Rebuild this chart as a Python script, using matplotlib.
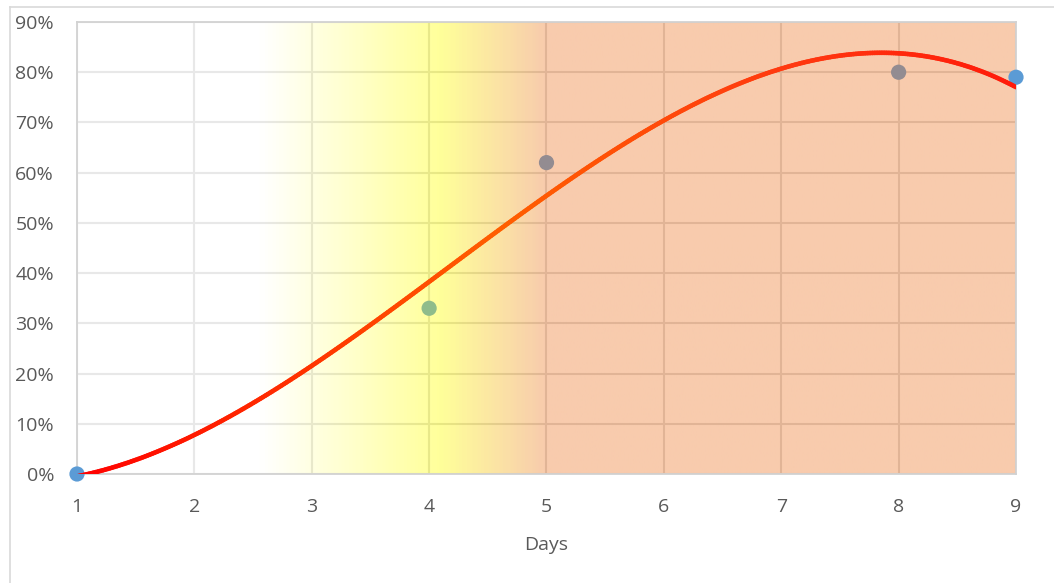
import matplotlib.pyplot as plt
import numpy as np
from matplotlib.collections import LineCollection
from matplotlib.colors import LinearSegmentedColormap
from matplotlib.ticker import PercentFormatter
from matplotlib.lines import Line2D

plt.rcParams['font.family'] = ['Open Sans', 'DejaVu Sans']

# data points
days = [1, 4, 5, 8, 9]
rates = [0.0, 0.33, 0.62, 0.80, 0.79]
point_colors = ['#5B9BD5', '#8FBC8B', '#938C91', '#938C91', '#5B9BD5']

x_ticks = [1, 2, 3, 4, 5, 6, 7, 8, 9]
y_ticks = [0.0, 0.1, 0.2, 0.3, 0.4, 0.5, 0.6, 0.7, 0.8, 0.9]

# background overlay gradient stops (day, colour), drawn at 50% over the grid
bg_stops = [(1.0, '#FFFFFF'), (2.55, '#FFFFFF'), (4.1, '#FFFF33'), (5.0, '#F1975B'), (9.0, '#F1975B')]

text_col = '#595959'

fig = plt.figure(figsize=(10.54, 5.83), dpi=100)
ax = fig.add_axes([77/1054, 1 - 474/583, (1016-77)/1054, (474-22)/583])

# outer chart border
fig.add_artist(Line2D([10/1054, 1], [1 - 7/583, 1 - 7/583], color='#d9d9d9', lw=1.2))
fig.add_artist(Line2D([10/1054, 10/1054], [0, 1 - 7/583], color='#d9d9d9', lw=1.2))

# gradient background, semi-transparent above the gridlines
span = bg_stops[-1][0] - bg_stops[0][0]
cmap_bg = LinearSegmentedColormap.from_list(
    'bg', [((d - bg_stops[0][0]) / span, c) for d, c in bg_stops])
grad = np.linspace(0, 1, 600).reshape(1, -1)
ax.imshow(grad, cmap=cmap_bg, aspect='auto', extent=[1, 9, 0, 0.9], zorder=2, alpha=0.5)

# polynomial trendline (order 3), red-to-orange coloured
coef = np.polyfit(days, rates, 3)
xs = np.linspace(1, 9, 400)
ys = np.polyval(coef, xs)
pts = np.array([xs, ys]).T.reshape(-1, 1, 2)
segs = np.concatenate([pts[:-1], pts[1:]], axis=1)
cmap_line = LinearSegmentedColormap.from_list(
    'ln', [(0, '#FF0000'), (0.45, '#FF5F00'), (0.75, '#FF3A10'), (1, '#FF1A0A')])
lc = LineCollection(segs, cmap=cmap_line, norm=plt.Normalize(1, 9), linewidth=3.3,
                    capstyle='round', zorder=4)
lc.set_array(xs[:-1])
ax.add_collection(lc)

ax.scatter(days, rates, s=120, c=point_colors, zorder=3, clip_on=False, linewidths=0)

ax.set_xlim(1, 9)
ax.set_ylim(0, 0.9)
ax.set_xticks(x_ticks)
ax.set_yticks(y_ticks)
ax.yaxis.set_major_formatter(PercentFormatter(1.0, decimals=0))
ax.grid(True, color='#d2d2d2', linewidth=1.5, zorder=1)
ax.set_axisbelow(True)
ax.tick_params(length=0, labelsize=14, labelcolor=text_col, pad=17)
ax.tick_params(axis='y', pad=16.5)
for s in ax.spines.values():
    s.set_color('#d2d2d2')
    s.set_linewidth(1.3)
ax.set_xlabel('Days', fontsize=14, color=text_col, labelpad=15)

fig.savefig('out.png', dpi=100)
